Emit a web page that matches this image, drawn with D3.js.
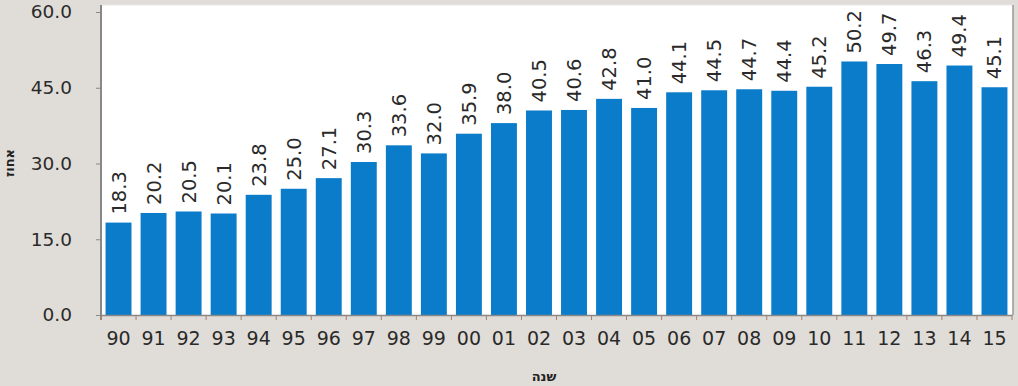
<!DOCTYPE html>
<html>
<head>
<meta charset="utf-8">
<script src="https://cdn.jsdelivr.net/npm/d3@7"></script>
<style>
  body { margin: 0; background: #e0ddd8; }
  svg { display: block; font-family: "DejaVu Sans", Verdana, sans-serif; }
</style>
</head>
<body>
<div id="chart"></div>
<script>
// years shown on the x axis and the percentage for each
let years = ["90","91","92","93","94","95","96","97","98","99","00","01","02",
             "03","04","05","06","07","08","09","10","11","12","13","14","15"];
let values = [18.3, 20.2, 20.5, 20.1, 23.8, 25.0, 27.1, 30.3, 33.6, 32.0, 35.9, 38.0, 40.5,
              40.6, 42.8, 41.0, 44.1, 44.5, 44.7, 44.4, 45.2, 50.2, 49.7, 46.3, 49.4, 45.1];
let yTicks = [0, 15, 30, 45, 60];

let width = 1018, height = 386;
let plotLeft = 101, plotRight = 1012, plotTop = 12, plotBottom = 315;

let svg = d3.select("#chart").append("svg")
  .attr("width", width)
  .attr("height", height);

// white plot area
svg.append("rect")
  .attr("x", plotLeft).attr("y", 5)
  .attr("width", plotRight - plotLeft + 1).attr("height", plotBottom - 5)
  .attr("fill", "white");
svg.append("line")
  .attr("x1", plotLeft).attr("x2", plotRight + 1).attr("y1", 5).attr("y2", 5)
  .attr("stroke", "#e6e6e6");
svg.append("line")
  .attr("x1", plotRight + 1).attr("x2", plotRight + 1).attr("y1", 5).attr("y2", plotBottom)
  .attr("stroke", "#999").attr("stroke-width", 1.5);

let x = d3.scaleBand().domain(years).range([plotLeft, plotRight]).paddingInner(0.26).paddingOuter(0.13);
let y = d3.scaleLinear().domain([0, 60]).range([plotBottom, plotTop]);

// bars
svg.append("g").selectAll("rect")
  .data(values)
  .enter().append("rect")
  .attr("x", (d, i) => x(years[i]))
  .attr("y", d => y(d))
  .attr("width", x.bandwidth())
  .attr("height", d => y(0) - y(d))
  .attr("fill", "#0a7cca");

// value labels, rotated
svg.append("g").selectAll("text")
  .data(values)
  .enter().append("text")
  .attr("transform", (d, i) =>
    "translate(" + (x(years[i]) + x.bandwidth() / 2 + 7) + "," + (y(d) - 8) + ") rotate(-90)")
  .attr("font-size", 19.5)
  .attr("fill", "#2a2a2a")
  .text(d => d.toFixed(1));

// y axis
let yAxis = svg.append("g")
  .attr("transform", "translate(" + plotLeft + ",0)")
  .call(d3.axisLeft(y).tickValues(yTicks).tickFormat(d3.format(".1f")).tickSize(5).tickPadding(24));
yAxis.select(".domain").attr("stroke", "#888").attr("stroke-width", 2).attr("d", "M0," + (plotBottom + 5) + "V" + 5);
yAxis.selectAll(".tick line").attr("stroke", "#888");
yAxis.selectAll(".tick text").attr("font-size", 18.5).attr("fill", "#2a2a2a")
  .attr("font-family", "DejaVu Sans, Verdana, sans-serif");

// x axis
let step = x.step();
let xAxis = svg.append("g")
  .attr("transform", "translate(0," + plotBottom + ")")
  .call(d3.axisBottom(x).tickSize(0).tickPadding(17));
xAxis.select(".domain").attr("stroke", "#888").attr("stroke-width", 1.5);
xAxis.selectAll(".tick text").attr("font-size", 19).attr("fill", "#2a2a2a")
  .attr("font-family", "DejaVu Sans, Verdana, sans-serif");
// small ticks between the bars
svg.append("g").selectAll("line")
  .data(d3.range(years.length + 1))
  .enter().append("line")
  .attr("x1", i => plotLeft + i * step).attr("x2", i => plotLeft + i * step)
  .attr("y1", plotBottom).attr("y2", plotBottom + 5)
  .attr("stroke", "#a08070");

// axis titles
svg.append("text")
  .attr("x", 544).attr("y", 381)
  .attr("text-anchor", "middle")
  .attr("font-size", 13).attr("font-weight", "bold").attr("fill", "#222")
  .text("שנה");
svg.append("text")
  .attr("transform", "translate(14,163) rotate(-90)")
  .attr("text-anchor", "middle")
  .attr("font-size", 13).attr("font-weight", "bold").attr("fill", "#222")
  .text("אחוז");
</script>
</body>
</html>
